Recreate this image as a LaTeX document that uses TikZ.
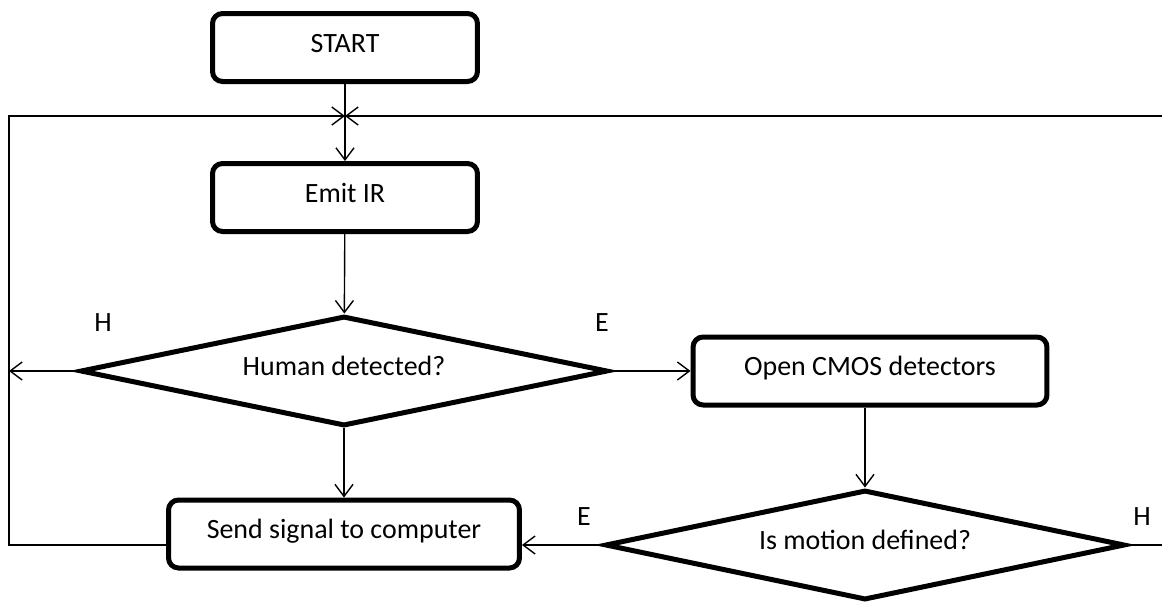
\documentclass[tikz,border=0pt]{standalone}
\usepackage{fontspec}
\setmainfont{Carlito}
\usetikzlibrary{shapes.geometric,arrows.meta}

\begin{document}
\begin{tikzpicture}[x=0.02cm, y=-0.02cm,
    >={Straight Barb[length=2.4mm,width=3.6mm]},
    every node/.style={font=\fontsize{15.9}{19}\selectfont},
    procbox/.style={draw, line width=0.1cm, rounded corners=0.2cm, minimum height=1.36cm, text height=0.39cm, text depth=0.2cm},
    decision/.style={draw, diamond, line width=0.1cm, inner sep=0pt, minimum height=2.2cm, aspect=4.7, text height=0.39cm, text depth=0.2cm},
    flow/.style={line width=0.028cm, ->},
    wire/.style={line width=0.028cm}
  ]
      \useasboundingbox (0,0) rectangle (1162,603);
      \clip (0,0) rectangle (1162,603);

      % Boxes
      \node[procbox, minimum width=5.3cm] (start) at (345,47.5) {START};
      \node[procbox, minimum width=5.3cm] (emit) at (345,197.5) {Emit IR};
      \node[procbox, minimum width=7.08cm] (cmos) at (870,371) {Open CMOS detectors};
      \node[procbox, minimum width=7.02cm] (send) at (344,534) {Send signal to computer};

      % Decisions
      \node[decision, minimum width=10.55cm] (human) at (344,371) {Human detected?};
      \node[decision, minimum width=10.4cm] (motion) at (865,545) {Is motion defined?};

      % Branch letters
      \node (hleft) at (103,323) {H};
      \node (eright) at (602,323) {E};
      \node (emot) at (584,517) {E};
      \node (hmot) at (1142,517) {H};

      % Loop points
      \coordinate (join) at (345,116);
      \coordinate (lbot) at (9,545);
      \coordinate (rmid) at (1190,545);

      % Main flow
      \draw[flow] (start) -- (emit);
      \draw[flow] (emit) -- (human);
      \draw[flow] (human) -- (send);
      \draw[flow] (human.east) -- (cmos.west);
      \draw[flow] (cmos.south -| motion.north) -- (motion.north);
      \draw[flow] (motion.west) -- (motion.west -| send.east);

      % Loops back to the top
      \draw[flow] (human.west) -- (human.west -| lbot);
      \draw[flow] (send.west |- motion.west) -- (lbot) |- (join);
      \draw[flow] (motion.east) -- (rmid) |- (join);

  \end{tikzpicture}
\end{document}
